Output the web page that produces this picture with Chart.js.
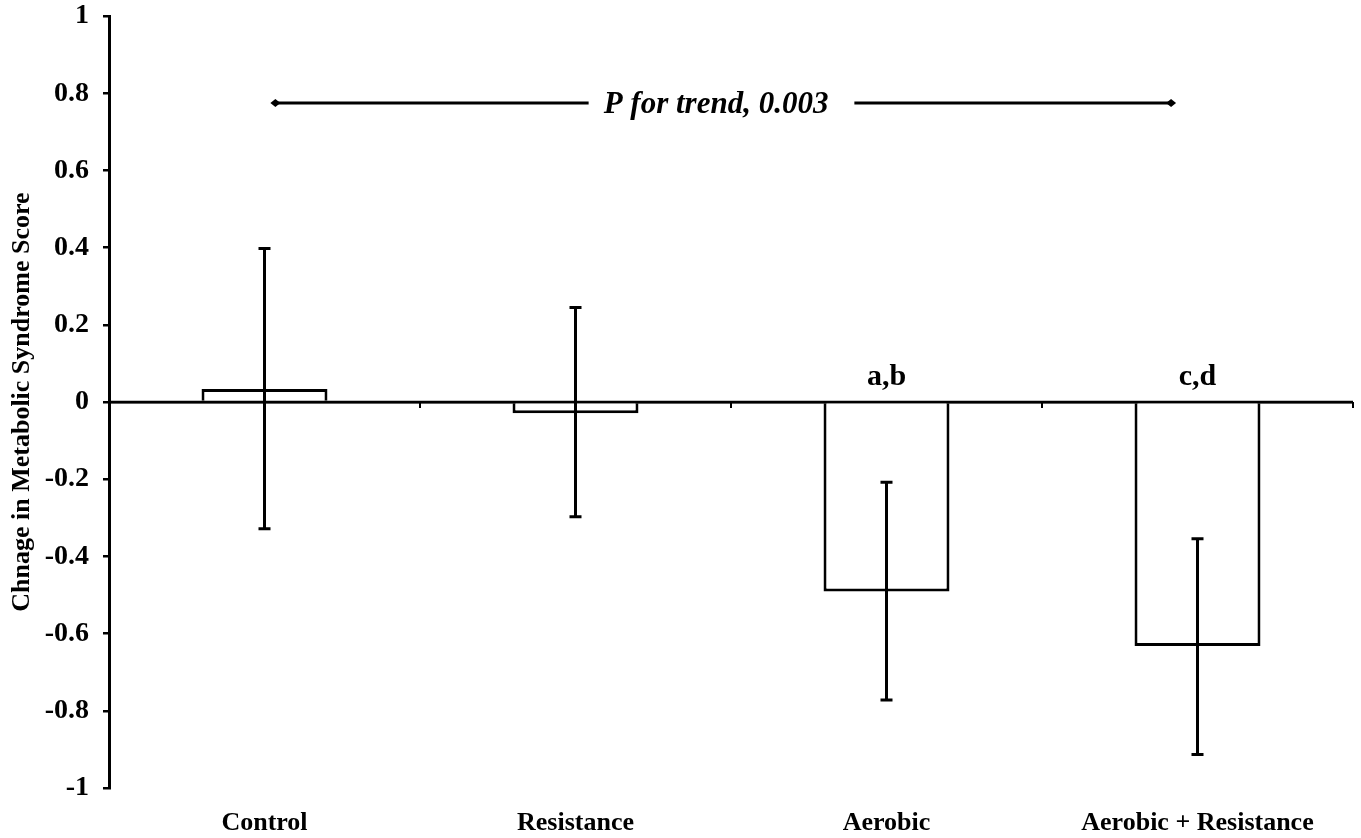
<!DOCTYPE html>
<html lang="en">
<head>
  <meta charset="UTF-8">
  <title>Change in Metabolic Syndrome Score</title>
  <script src="https://cdn.jsdelivr.net/npm/chart.js"></script>
  <style>
    body {
      margin: 0;
      background: #fff;
      overflow: hidden;
    }
    canvas {
      display: block;
    }
  </style>
</head>
<body>
  <canvas id="barChart" width="1361" height="838"></canvas>

  <script>
    // data
    const groups = ['Control', 'Resistance', 'Aerobic', 'Aerobic + Resistance'];
    const meanChange = [0.034, -0.029, -0.491, -0.632];
    const errLow = [-0.328, -0.297, -0.772, -0.913];
    const errHigh = [0.398, 0.245, -0.208, -0.354];
    const sigLabels = ['', '', 'a,b', 'c,d'];
    const trendText = 'P for trend, 0.003';
    const trendLevel = 0.775;

    const serif = '"Liberation Serif", "Times New Roman", serif';

    // error bars, zero-line ticks, significance letters and the trend arrow
    const extras = {
      id: 'extras',
      afterDatasetsDraw(chart) {
        const ctx = chart.ctx;
        const x = chart.scales.x;
        const y = chart.scales.y;
        const step = x.getPixelForValue(1) - x.getPixelForValue(0);
        const y0 = y.getPixelForValue(0);
        ctx.save();
        ctx.strokeStyle = '#000';
        ctx.fillStyle = '#000';

        // zero line redrawn over the bar bases, plus small ticks at category boundaries
        ctx.lineWidth = 2.5;
        ctx.beginPath();
        ctx.moveTo(chart.chartArea.left, y0);
        ctx.lineTo(chart.chartArea.right, y0);
        ctx.stroke();
        ctx.lineWidth = 2;
        for (let i = 0; i < groups.length; i++) {
          const px = x.getPixelForValue(i) + step / 2;
          ctx.beginPath();
          ctx.moveTo(px, y0);
          ctx.lineTo(px, y0 + 6);
          ctx.stroke();
        }

        // error bars
        ctx.lineWidth = 3;
        groups.forEach((g, i) => {
          const px = x.getPixelForValue(i);
          const lo = y.getPixelForValue(errLow[i]);
          const hi = y.getPixelForValue(errHigh[i]);
          ctx.beginPath();
          ctx.moveTo(px, lo);
          ctx.lineTo(px, hi);
          ctx.moveTo(px - 6, lo);
          ctx.lineTo(px + 6, lo);
          ctx.moveTo(px - 6, hi);
          ctx.lineTo(px + 6, hi);
          ctx.stroke();
        });

        // significance letters
        ctx.font = 'bold 30px ' + serif;
        ctx.textAlign = 'center';
        ctx.textBaseline = 'alphabetic';
        sigLabels.forEach((s, i) => {
          if (s) ctx.fillText(s, x.getPixelForValue(i), y0 - 17);
        });

        // trend arrow with text in the middle
        const yt = y.getPixelForValue(trendLevel);
        const left = x.getPixelForValue(0) + step * 0.035;
        const right = x.getPixelForValue(3) - step * 0.085;
        ctx.font = 'italic bold 31px ' + serif;
        ctx.textBaseline = 'middle';
        const mid = x.getPixelForValue(1.5) - 15;
        const tw = ctx.measureText(trendText).width;
        ctx.fillText(trendText, mid, yt + 2);
        ctx.lineWidth = 3;
        ctx.beginPath();
        ctx.moveTo(left, yt);
        ctx.lineTo(mid - tw / 2 - 15, yt);
        ctx.moveTo(mid + tw / 2 + 26, yt);
        ctx.lineTo(right, yt);
        ctx.stroke();
        [left, right].forEach(px => {
          ctx.beginPath();
          ctx.moveTo(px - 5, yt);
          ctx.lineTo(px, yt - 4);
          ctx.lineTo(px + 5, yt);
          ctx.lineTo(px, yt + 4);
          ctx.closePath();
          ctx.fill();
        });
        ctx.restore();
      }
    };

    new Chart(document.getElementById('barChart').getContext('2d'), {
      type: 'bar',
      data: {
        labels: groups,
        datasets: [{
          data: meanChange,
          backgroundColor: '#fff',
          borderColor: '#000',
          borderWidth: 3,
          borderSkipped: 'start',
          barPercentage: 0.405,
          categoryPercentage: 1
        }]
      },
      options: {
        responsive: false,
        animation: false,
        layout: { padding: { top: 0, right: 8, bottom: 0, left: 7 } },
        plugins: {
          legend: { display: false },
          tooltip: { enabled: false }
        },
        scales: {
          x: {
            grid: { display: false, drawTicks: false },
            border: { display: false },
            ticks: {
              color: '#000',
              padding: 20,
              font: { family: serif, size: 26, weight: 'bold' }
            },
            afterFit: s => { s.height = 50; }
          },
          y: {
            min: -1,
            max: 1,
            grid: {
              color: c => c.tick && c.tick.value === 0 ? '#000' : 'rgba(0,0,0,0)',
              tickColor: '#000',
              lineWidth: 2.5,
              tickLength: 6
            },
            border: { color: '#000', width: 3 },
            ticks: {
              stepSize: 0.2,
              color: '#000',
              padding: 14,
              font: { family: serif, size: 28, weight: 'bold', lineHeight: 0.15 },
              callback: v => {
                const r = Math.round(v * 10) / 10;
                return r === 0 ? '0' : String(r);
              }
            },
            title: {
              display: true,
              text: 'Chnage in Metabolic Syndrome Score',
              color: '#000',
              padding: { top: 0, bottom: 10 },
              font: { family: serif, size: 26, weight: 'bold' }
            },
            afterFit: s => { s.width = 102; }
          }
        }
      },
      plugins: [extras]
    });
  </script>
</body>
</html>
